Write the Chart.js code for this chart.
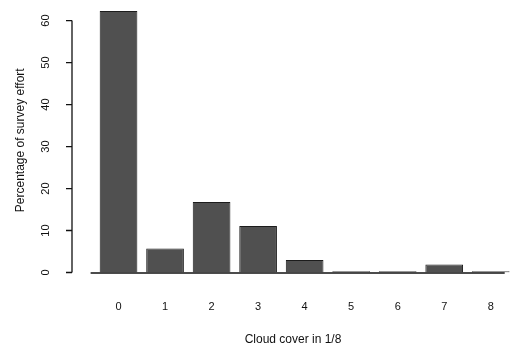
<!DOCTYPE html>
<html>
<head>
<meta charset="utf-8">
<script src="https://cdn.jsdelivr.net/npm/chart.js@4/dist/chart.umd.min.js"></script>
<style>
  body { margin: 0; background: #fff; }
  #wrap { width: 514px; height: 350px; position: relative; }
</style>
</head>
<body>
<div id="wrap"><canvas id="cloudChart"></canvas></div>
<script>
// cloud cover classes (eighths) and share of survey effort (%)
var cloudCover = [0, 1, 2, 3, 4, 5, 6, 7, 8];
var effortPct = [62.3, 5.7, 16.8, 11.1, 3.0, 0.3, 0.3, 1.9, 0.3];
var yTicks = [0, 10, 20, 30, 40, 50, 60];

// R-style axis lines: y only between first and last tick, x baseline under the bars
var axisLines = {
  id: 'axisLines',
  afterDraw: function (chart) {
    var c = chart.ctx, x = chart.scales.x, y = chart.scales.y;
    var ax = chart.chartArea.left;
    c.save();
    c.strokeStyle = '#111';
    c.lineWidth = 1.3;
    c.beginPath();
    c.moveTo(ax, y.getPixelForValue(yTicks[0]));
    c.lineTo(ax, y.getPixelForValue(yTicks[yTicks.length - 1]));
    yTicks.forEach(function (t) {
      c.moveTo(ax, y.getPixelForValue(t));
      c.lineTo(ax - 6, y.getPixelForValue(t));
    });
    c.stroke();
    c.lineWidth = 1.5;
    c.beginPath();
    c.moveTo(x.getPixelForValue(-0.6), y.getPixelForValue(0) + 0.5);
    c.lineTo(x.getPixelForValue(8.3), y.getPixelForValue(0) + 0.5);
    c.stroke();
    c.restore();
  }
};

var ctx = document.getElementById('cloudChart');
new Chart(ctx, {
  type: 'bar',
  data: {
    datasets: [{
      data: cloudCover.map(function (c, i) { return { x: c, y: effortPct[i] }; }),
      backgroundColor: '#505050',
      borderColor: '#1c1c1c',
      borderWidth: 1,
      barPercentage: 0.81,
      categoryPercentage: 1
    }]
  },
  options: {
    responsive: true,
    maintainAspectRatio: false,
    animation: false,
    layout: { padding: { top: 8, right: 0, bottom: 0, left: 0 } },
    plugins: { legend: { display: false }, tooltip: { enabled: false } },
    scales: {
      x: {
        type: 'linear',
        offset: false,
        min: -1,
        max: 8.5,
        afterBuildTicks: function (scale) {
          scale.ticks = cloudCover.map(function (v) { return { value: v }; });
        },
        afterFit: function (scale) {
          scale.height = 77.5;
          scale.paddingLeft = 0;
          scale.paddingRight = 0;
        },
        grid: { display: false },
        border: { display: false },
        ticks: {
          color: '#111',
          font: { family: 'Liberation Sans', size: 11 },
          padding: 20,
          maxRotation: 0
        },
        title: {
          display: true,
          text: 'Cloud cover in 1/8',
          color: '#111',
          font: { family: 'Liberation Sans', size: 12 },
          padding: { top: 0, bottom: 3 }
        }
      },
      y: {
        min: 0,
        max: 63,
        afterBuildTicks: function (scale) {
          scale.ticks = yTicks.map(function (v) { return { value: v }; });
        },
        afterFit: function (scale) {
          scale.width = 72;
          scale.paddingTop = 0;
          scale.paddingBottom = 0;
        },
        grid: { display: false },
        border: { display: false },
        ticks: {
          color: '#111',
          font: { family: 'Liberation Sans', size: 11 },
          minRotation: 90,
          maxRotation: 90,
          crossAlign: 'center',
          padding: 12
        },
        title: {
          display: true,
          text: 'Percentage of survey effort',
          color: '#111',
          font: { family: 'Liberation Sans', size: 12 },
          padding: { top: 13, bottom: 0 }
        }
      }
    }
  },
  plugins: [axisLines]
});
</script>
</body>
</html>
